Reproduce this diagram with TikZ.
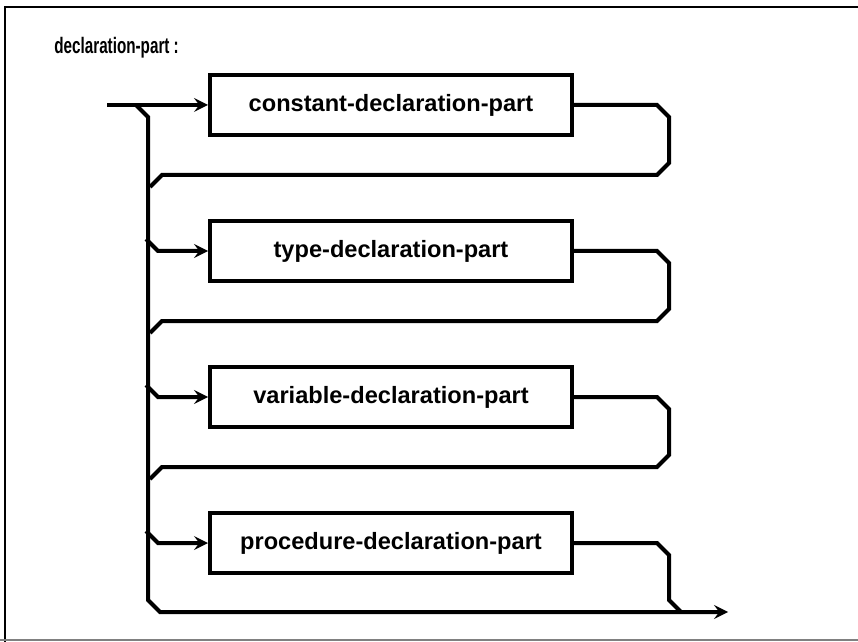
\documentclass[tikz,border=0pt]{standalone}
\usepackage{fontspec}
\setmainfont{Liberation Sans}
\usetikzlibrary{positioning,arrows}
\tikzset{
    part/.style={
        rectangle,
        draw=black,
        line width=2pt,
        minimum width=181pt,
        minimum height=30pt,
        text centered,
        font=\bfseries\fontsize{11.8}{14}\selectfont
    },
    rail/.style={
        line width=2pt
    },
    arrow/.style={
        ->,
        >=stealth,
        rail
    }
}

\begin{document}
\begin{tikzpicture}[x=0.5pt, y=-0.5pt]
    \useasboundingbox (0,0) rectangle (858,642);
    \draw [line width=1.2pt] (5,642) -- (5,7) -- (858,7);
    \draw [gray, line width=0.8pt] (0,640) -- (858,640);
    \node (title) [anchor=base west, inner sep=0pt, font=\bfseries\fontsize{11.2}{13}\selectfont] at (54,54) {\scalebox{0.68}[1]{declaration-part :}};
    \node (const) [part] at (391,105) {constant-declaration-part};
    \node (type) [part, below=41pt of const] {type-declaration-part};
    \node (var) [part, below=41pt of type] {variable-declaration-part};
    \node (proc) [part, below=41pt of var] {procedure-declaration-part};
    \coordinate (entry) at (107,105);
    \coordinate (exit) at (728,612);
    \draw [arrow] (entry) -- (const.west);
    % left rail and way out
    \draw [arrow] (entry) ++(29,0) -- ++(12,12) -- ++(0,483) -- ++(12,12) -- (exit);
    % loops back from each part
    \foreach \p in {const,type,var}
        \draw [rail] (\p.east) -- ++(83,0) -- ++(12,12) -- ++(0,46) -- ++(-12,12) -- ++(-495,0) -- ++(-12,12);
    \draw [rail] (proc.east) -- ++(83,0) -- ++(12,12) -- ++(0,45) -- ++(12,12);
    % branches into the parts
    \foreach \p in {type,var,proc}
        \draw [arrow] (\p.west) ++(-62,-12) -- ++(12,12) -- (\p.west);
\end{tikzpicture}
\end{document}
